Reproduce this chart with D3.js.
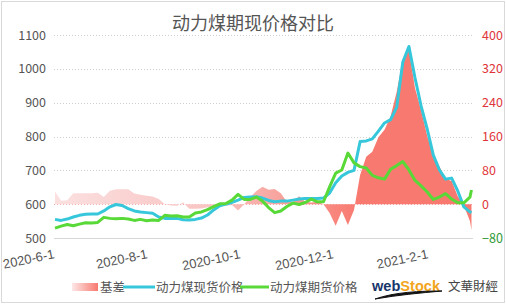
<!DOCTYPE html>
<html>
<head>
<meta charset="utf-8">
<script src="https://cdn.jsdelivr.net/npm/d3@7"></script>
<style>
  body { margin: 0; background: #fff; }
  text { font-family: "Noto Sans CJK SC", "Noto Sans", sans-serif; }
</style>
</head>
<body>
<script>
// Dates of the samples (read every ~4 days off the chart)
var dates = [
  "2020-06-01","2020-06-05","2020-06-09","2020-06-13","2020-06-17","2020-06-21","2020-06-25","2020-06-29",
  "2020-07-03","2020-07-07","2020-07-11","2020-07-15","2020-07-19","2020-07-23","2020-07-27","2020-07-31",
  "2020-08-04","2020-08-08","2020-08-12","2020-08-16","2020-08-20","2020-08-24","2020-08-28","2020-09-01",
  "2020-09-05","2020-09-09","2020-09-13","2020-09-17","2020-09-21","2020-09-25","2020-09-29","2020-10-03",
  "2020-10-07","2020-10-11","2020-10-15","2020-10-19","2020-10-23","2020-10-27","2020-10-31","2020-11-04",
  "2020-11-08","2020-11-12","2020-11-16","2020-11-20","2020-11-24","2020-11-28","2020-12-02","2020-12-06",
  "2020-12-10","2020-12-14","2020-12-18","2020-12-22","2020-12-26","2020-12-30","2021-01-03","2021-01-07",
  "2021-01-11","2021-01-15","2021-01-19","2021-01-23","2021-01-27","2021-01-31","2021-02-04","2021-02-08",
  "2021-02-12","2021-02-16","2021-02-20","2021-02-24","2021-02-28","2021-03-01"
];

// 动力煤现货价格 (left axis)
var spot = [
  555,552,556,562,567,570,571,571,580,592,599,596,587,580,577,575,
  573,562,558,558,558,554,553,555,559,568,583,595,600,605,612,620,
  621,622,618,611,607,609,609,612,615,617,617,617,618,633,663,683,
  694,700,785,787,793,816,840,850,887,1020,1066,973,890,822,745,701,
  674,677,639,592,577,575
];

// 动力煤期货价格 (left axis)
var futures = [
  529,535,540,536,541,545,544,546,561,558,557,558,556,552,555,551,
  553,552,567,565,566,562,562,574,577,584,593,601,602,612,629,614,
  614,621,609,590,575,580,593,603,599,605,615,607,607,651,692,701,
  751,722,711,707,685,678,674,703,714,726,701,670,654,636,614,621,
  631,615,604,604,621,642
];

// 基差 (right axis)
var basis = [
  30,8,9,26,26,26,26,27,17,32,35,35,35,25,22,20,
  18,12,0,-3,-4,4,-11,-11,-10,-7,-5,-5,-4,-2,-15,0,
  17,31,41,34,36,26,6,5,19,6,4,6,0,-21,-51,-16,
  -49,-14,69,112,124,158,176,208,266,342,364,274,222,161,116,89,
  60,55,19,-3,-40,-61
];

var leftTicks = [500, 600, 700, 800, 900, 1000, 1100];
var rightTicks = [-80, 0, 80, 160, 240, 320, 400];
var xTicks = ["2020-06-01", "2020-08-01", "2020-10-01", "2020-12-01", "2021-02-01"];

var svgWidth = 506;
var svgHeight = 305;

var parseDate = d3.timeParse("%Y-%m-%d");
var data = dates.map(function(d, i) {
  return { date: parseDate(d), spot: spot[i], futures: futures[i], basis: basis[i] };
});

var svg = d3.select("body").append("svg")
  .attr("width", svgWidth)
  .attr("height", svgHeight);

// outer frame
svg.append("rect")
  .attr("x", 1.5).attr("y", 1.5)
  .attr("width", svgWidth - 3).attr("height", svgHeight - 4)
  .attr("fill", "#fff").attr("stroke", "#d9d9d9");

var xScale = d3.scaleTime()
  .domain([parseDate("2020-06-01"), parseDate("2021-03-02")])
  .range([55, 473]);

var yLeft = d3.scaleLinear().domain([500, 1100]).range([238, 35]);
var yRight = d3.scaleLinear().domain([-80, 400]).range([238, 35]);

// gradient for the basis area
var defs = svg.append("defs");
var grad = defs.append("linearGradient")
  .attr("id", "basisGrad")
  .attr("gradientUnits", "userSpaceOnUse")
  .attr("x1", 55).attr("y1", 0).attr("x2", 358).attr("y2", 0);
grad.append("stop").attr("offset", "0%").attr("stop-color", "#fbe0e0");
grad.append("stop").attr("offset", "55%").attr("stop-color", "#f8c2c0");
grad.append("stop").attr("offset", "100%").attr("stop-color", "#f8796f");

var legGrad = defs.append("linearGradient").attr("id", "legGrad");
legGrad.append("stop").attr("offset", "0%").attr("stop-color", "#fde8e8");
legGrad.append("stop").attr("offset", "100%").attr("stop-color", "#f8796f");

// gridlines
svg.append("g").selectAll("line")
  .data(leftTicks)
  .enter().append("line")
  .attr("x1", 54).attr("x2", 473)
  .attr("y1", d => Math.round(yLeft(d)) + 0.5)
  .attr("y2", d => Math.round(yLeft(d)) + 0.5)
  .attr("stroke", d => d === 500 ? "#d6d6d6" : (d === 600 ? "#f2a6a6" : "#cfcfcf"))
  .attr("stroke-dasharray", d => d === 500 ? null : "1,2");

// basis area
var area = d3.area()
  .x(d => xScale(d.date))
  .y0(yRight(0))
  .y1(d => yRight(d.basis));

svg.append("path")
  .datum(data)
  .attr("d", area)
  .attr("fill", "url(#basisGrad)");

// lines
var spotLine = d3.line()
  .x(d => xScale(d.date))
  .y(d => yLeft(d.spot));

var futLine = d3.line()
  .x(d => xScale(d.date))
  .y(d => yLeft(d.futures));

svg.append("path")
  .datum(data)
  .attr("d", spotLine)
  .attr("fill", "none")
  .attr("stroke", "#36c7db")
  .attr("stroke-width", 3)
  .attr("stroke-linejoin", "round");

svg.append("path")
  .datum(data)
  .attr("d", futLine)
  .attr("fill", "none")
  .attr("stroke", "#58d938")
  .attr("stroke-width", 3)
  .attr("stroke-linejoin", "round");

// left axis
var leftAxis = d3.axisLeft(yLeft).tickValues(leftTicks).tickFormat(d3.format("d")).tickSize(0).tickPadding(0);
var gl = svg.append("g")
  .attr("transform", "translate(46,0)")
  .call(leftAxis);
gl.select(".domain").remove();
gl.selectAll("text")
  .attr("fill", "#555")
  .style("font-size", "12.5px");

// right axis
var rightAxis = d3.axisRight(yRight).tickValues(rightTicks).tickFormat(d3.format("d")).tickSize(0).tickPadding(0);
var gr = svg.append("g")
  .attr("transform", "translate(482,0)")
  .call(rightAxis);
gr.select(".domain").remove();
gr.selectAll("text")
  .attr("fill", d => d < 0 ? "#2f9a36" : "#e0363a")
  .style("font-size", "12.5px");

// x axis labels
var fmt = d3.timeFormat("%Y-%-m-%-d");
svg.append("g").selectAll("text")
  .data(xTicks)
  .enter().append("text")
  .attr("transform", d => `translate(${xScale(parseDate(d))}, 258) rotate(-12)`)
  .attr("text-anchor", "end")
  .attr("fill", "#555")
  .style("font-family", "'Liberation Sans', sans-serif")
  .style("font-size", "13px")
  .text(d => fmt(parseDate(d)));

// title
svg.append("text")
  .attr("x", 253).attr("y", 30)
  .attr("text-anchor", "middle")
  .attr("fill", "#555")
  .style("font-size", "18px")
  .text("动力煤期现价格对比");

// legend
var ly = 287;
svg.append("rect")
  .attr("x", 72).attr("y", ly - 4).attr("width", 26).attr("height", 8)
  .attr("fill", "url(#legGrad)");
svg.append("text")
  .attr("x", 100).attr("y", ly + 4.5)
  .attr("fill", "#555").style("font-size", "12.5px")
  .text("基差");
svg.append("line")
  .attr("x1", 123).attr("x2", 155).attr("y1", ly).attr("y2", ly)
  .attr("stroke", "#36c7db").attr("stroke-width", 3);
svg.append("text")
  .attr("x", 156).attr("y", ly + 4.5)
  .attr("fill", "#555").style("font-size", "12.5px")
  .text("动力煤现货价格");
svg.append("line")
  .attr("x1", 240).attr("x2", 269).attr("y1", ly).attr("y2", ly)
  .attr("stroke", "#58d938").attr("stroke-width", 3);
svg.append("text")
  .attr("x", 270).attr("y", ly + 4.5)
  .attr("fill", "#555").style("font-size", "12.5px")
  .text("动力煤期货价格");

// logo
var logo = svg.append("text")
  .attr("x", 372).attr("y", 291)
  .style("font-family", "'Liberation Sans', sans-serif")
  .style("font-size", "15px")
  .style("font-weight", "bold")
  .attr("textLength", 68)
  .attr("lengthAdjust", "spacingAndGlyphs");
logo.append("tspan").attr("fill", "#17366b").text("web");
logo.append("tspan").attr("fill", "#f2a51c").text("Stock");
svg.append("path")
  .attr("d", "M375,299 C395,292 420,291 442,291 C420,293 398,295 375,299 Z")
  .attr("fill", "#111")
  .attr("stroke", "#111")
  .attr("stroke-width", 1);
svg.append("text")
  .attr("x", 448).attr("y", 291)
  .attr("fill", "#444").style("font-size", "12.5px")
  .text("文華財經");
</script>
</body>
</html>
